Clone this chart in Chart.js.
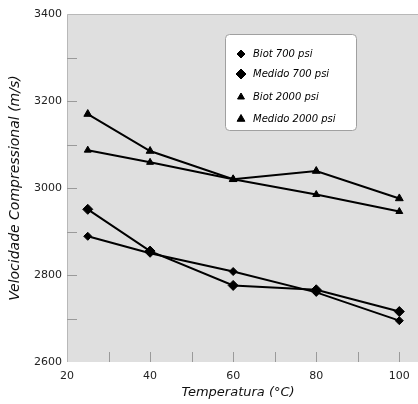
<!DOCTYPE html>
<html>
<head>
<meta charset="utf-8">
<script src="https://cdn.jsdelivr.net/npm/chart.js@4"></script>
<style>
  body { margin: 0; background: #fff; }
</style>
</head>
<body>
<canvas id="velChart" width="418" height="404"></canvas>
<script>
// temperaturas (°C) e velocidades (m/s)
const temps = [25, 40, 60, 80, 100]
const biot700 = [2889, 2850, 2808, 2760, 2695]
const medido700 = [2951, 2855, 2776, 2766, 2716]
const biot2000 = [3087, 3059, 3020, 2985, 2946]
const medido2000 = [3170, 3085, 3020, 3039, 2976]
const xLabels = [20, 40, 60, 80, 100]
const yLabels = [2600, 2800, 3000, 3200, 3400]

const fonte = '"DejaVu Sans", Arial, sans-serif'

function serie(label, values, style, radius) {
    return {
        label: label,
        data: temps.map((t, i) => ({x: t, y: values[i]})),
        borderColor: '#000',
        backgroundColor: '#000',
        borderWidth: 2,
        pointStyle: style,
        pointRadius: radius,
        pointBorderWidth: 1,
        tension: 0
    }
}

// fundo cinza da area do grafico (vai ate a borda direita)
const plotBg = {
    id: 'plotBg',
    beforeDraw(chart) {
        const {ctx, chartArea: a} = chart
        ctx.save()
        ctx.fillStyle = '#dfdfdf'
        ctx.fillRect(a.left, a.top, chart.width - a.left, a.bottom - a.top)
        ctx.strokeStyle = '#b8b8b8'
        ctx.lineWidth = 1
        ctx.beginPath()
        ctx.moveTo(a.left + 0.5, a.bottom)
        ctx.lineTo(a.left + 0.5, a.top + 0.5)
        ctx.lineTo(chart.width, a.top + 0.5)
        ctx.stroke()
        ctx.restore()
    }
}

// marcas dos eixos desenhadas para dentro
const innerTicks = {
    id: 'innerTicks',
    beforeDatasetsDraw(chart) {
        const {ctx, chartArea: a, scales} = chart
        ctx.save()
        ctx.strokeStyle = '#9a9a9a'
        ctx.lineWidth = 1
        ctx.beginPath()
        for (let v = 30; v <= 100; v += 10) {
            let px = Math.round(scales.x.getPixelForValue(v)) + 0.5
            ctx.moveTo(px, a.bottom)
            ctx.lineTo(px, a.bottom - 10)
        }
        for (let v = 2700; v < 3400; v += 100) {
            let py = Math.round(scales.y.getPixelForValue(v)) + 0.5
            ctx.moveTo(a.left, py)
            ctx.lineTo(a.left + 10, py)
        }
        ctx.stroke()
        ctx.restore()
    }
}

// legenda dentro do grafico
const boxLegend = {
    id: 'boxLegend',
    afterDraw(chart) {
        const ctx = chart.ctx
        const x = 225, y = 34, w = 131, h = 96
        ctx.save()
        ctx.fillStyle = '#fff'
        ctx.strokeStyle = '#a0a0a0'
        ctx.lineWidth = 1
        ctx.beginPath()
        ctx.roundRect(x + 0.5, y + 0.5, w, h, 4)
        ctx.fill()
        ctx.stroke()
        ctx.font = 'italic 10px ' + fonte
        ctx.textBaseline = 'middle'
        const rows = [54, 74, 97, 119]
        chart.data.datasets.forEach((ds, i) => {
            ctx.fillStyle = '#000'
            ctx.strokeStyle = '#000'
            Chart.helpers.drawPoint(ctx, {pointStyle: ds.pointStyle, radius: ds.pointRadius, borderWidth: 1}, 241, rows[i])
            ctx.fillStyle = '#000'
            ctx.fillText(ds.label, 253, rows[i])
        })
        ctx.restore()
    }
}

new Chart(document.getElementById('velChart'), {
    type: 'line',
    data: {
        datasets: [
            serie('Biot 700 psi', biot700, 'rectRot', 4),
            serie('Medido 700 psi', medido700, 'rectRot', 5),
            serie('Biot 2000 psi', biot2000, 'triangle', 4),
            serie('Medido 2000 psi', medido2000, 'triangle', 4.5)
        ]
    },
    options: {
        responsive: false,
        animation: false,
        layout: {padding: {top: 14, right: 0, left: 0, bottom: 0}},
        plugins: {legend: {display: false}, tooltip: {enabled: false}},
        scales: {
            x: {
                type: 'linear',
                min: 20,
                max: 102.4,
                afterBuildTicks: s => { s.ticks = xLabels.map(v => ({value: v})) },
                afterFit: s => { s.height = 42 },
                grid: {display: false, drawTicks: false},
                border: {display: false},
                ticks: {
                    padding: 8,
                    color: '#222',
                    callback: v => String(v),
                    font: {family: fonte, size: 11}
                },
                title: {
                    display: true,
                    text: 'Temperatura (°C)',
                    color: '#111',
                    padding: {top: 0, bottom: 4},
                    font: {family: fonte, size: 13, style: 'italic'}
                }
            },
            y: {
                min: 2600,
                max: 3400,
                afterBuildTicks: s => { s.ticks = yLabels.map(v => ({value: v})) },
                afterFit: s => { s.width = 67 },
                grid: {display: false, drawTicks: false},
                border: {display: false},
                ticks: {
                    padding: 5,
                    color: '#222',
                    callback: v => String(v),
                    font: {family: fonte, size: 11}
                },
                title: {
                    display: true,
                    text: 'Velocidade Compressional (m/s)',
                    color: '#111',
                    padding: {top: 7, bottom: 0},
                    font: {family: fonte, size: 14, style: 'italic'}
                }
            }
        }
    },
    plugins: [plotBg, innerTicks, boxLegend]
})
</script>
</body>
</html>
